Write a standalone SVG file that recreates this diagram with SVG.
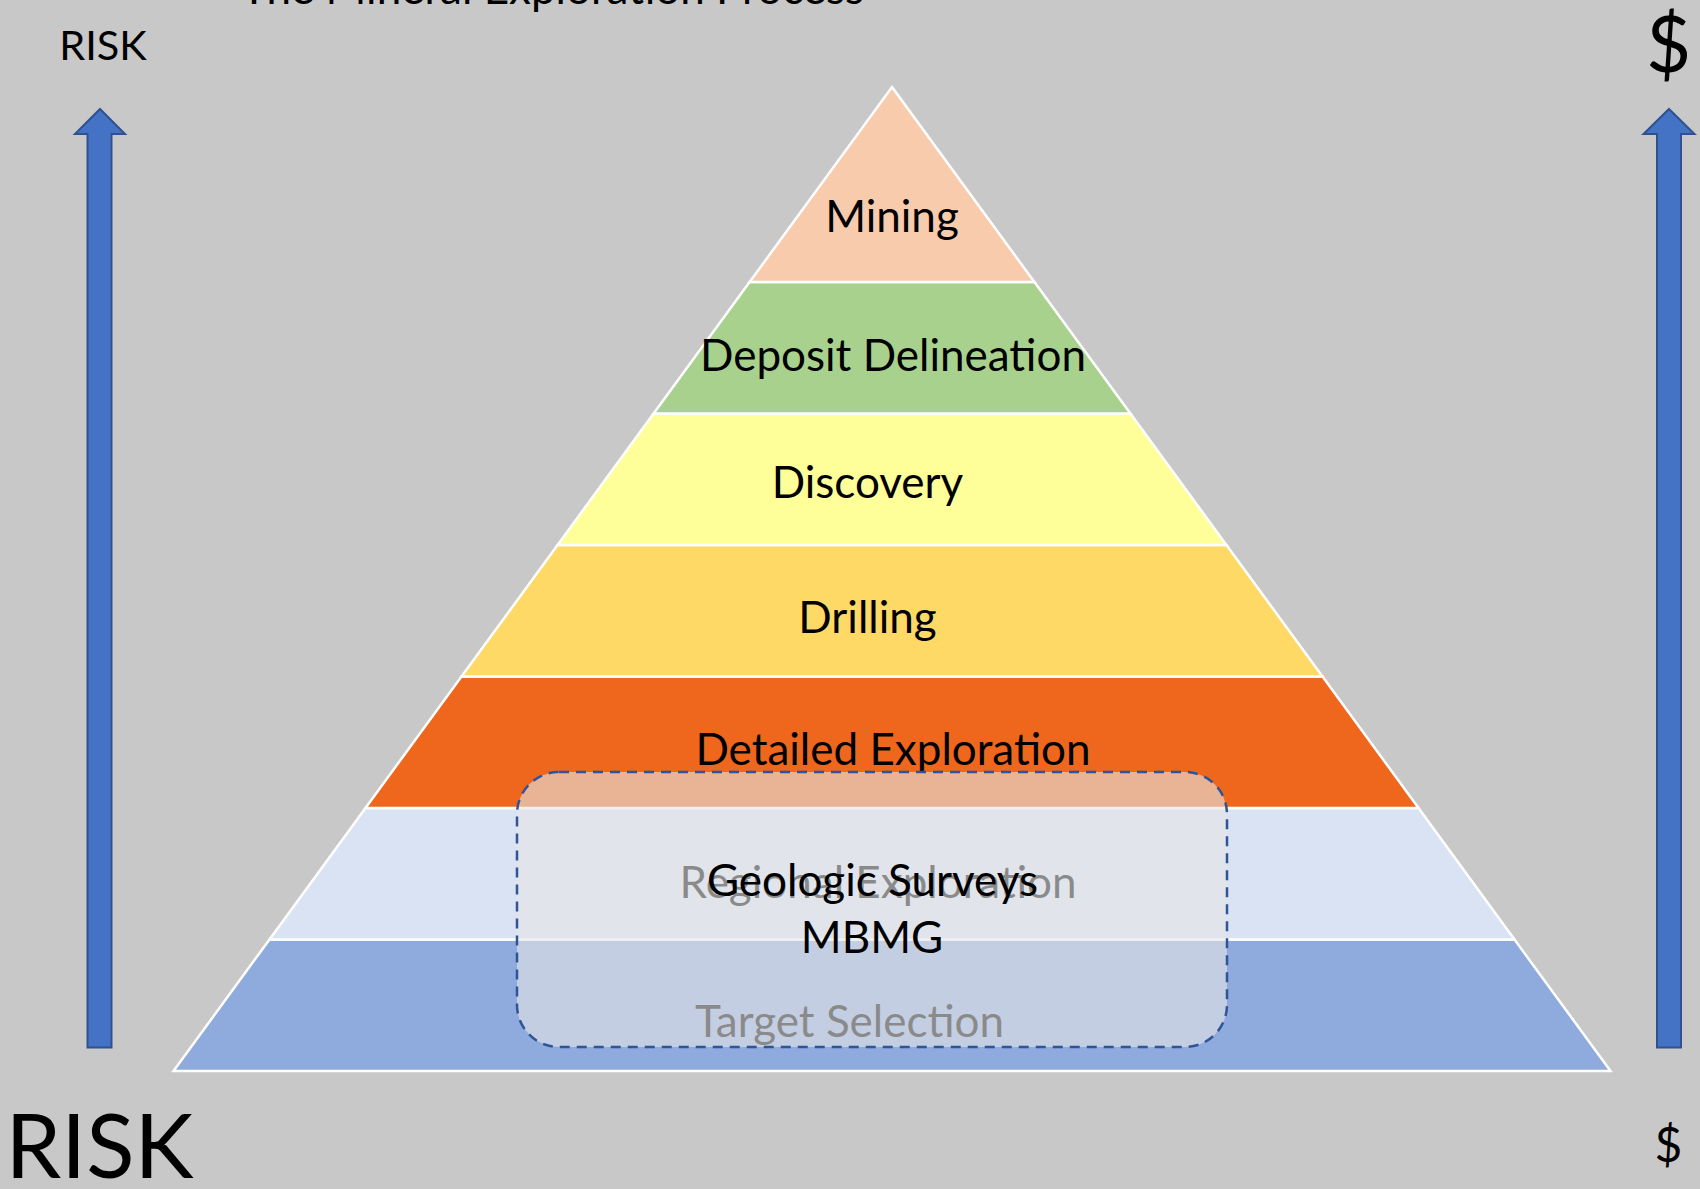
<svg xmlns="http://www.w3.org/2000/svg" width="1700" height="1189" viewBox="0 0 1700 1189">
  <style>
    .band { stroke: #FFFFFF; stroke-width: 2.5; stroke-linejoin: miter; }
    .lbl { font-family: Lato, "Noto Sans", "DejaVu Sans", sans-serif; font-size: 44px; fill: #000000; text-anchor: middle; }
    .arrow { fill: #4472C4; stroke: #2F528F; stroke-width: 2; }
    .overlay { fill: #E6E6E6; fill-opacity: 0.6; stroke: #2F5597; stroke-width: 2.5; stroke-dasharray: 10 7; }
  </style>
  <rect x="0" y="0" width="1700" height="1189" fill="#C8C8C8"/>

  <text id="title" class="lbl" x="552.5" y="3.5">The Mineral Exploration Process</text>

  <g id="band-target">
    <polygon class="band" points="269.5,939.5 1514.5,939.5 1610.5,1071 173.5,1071" fill="#8FAADC"/>
    <text class="lbl" x="849.5" y="1036.7">Target Selection</text>
  </g>
  <g id="band-regional">
    <polygon class="band" points="365.5,808 1418.5,808 1514.5,939.5 269.5,939.5" fill="#DAE3F3"/>
    <text class="lbl" x="878" y="898">Regional Exploration</text>
  </g>
  <g id="band-detailed">
    <polygon class="band" points="461.5,676.5 1322.5,676.5 1418.5,808 365.5,808" fill="#EE671D"/>
    <text class="lbl" x="893" y="765">Detailed Exploration</text>
  </g>
  <g id="band-drilling">
    <polygon class="band" points="557.6,545 1226.4,545 1322.5,676.5 461.5,676.5" fill="#FFD966"/>
    <text class="lbl" x="867.5" y="633.3">Drilling</text>
  </g>
  <g id="band-discovery">
    <polygon class="band" points="653.6,413.5 1130.4,413.5 1226.4,545 557.6,545" fill="#FFFF99"/>
    <text class="lbl" x="867.5" y="498.3">Discovery</text>
  </g>
  <g id="band-deposit">
    <polygon class="band" points="749.6,282 1034.4,282 1130.4,413.5 653.6,413.5" fill="#A9D18E"/>
    <text class="lbl" x="893" y="370.7">Deposit Delineation</text>
  </g>
  <g id="band-mining">
    <polygon class="band" points="892,87 1034.4,282 749.6,282" fill="#F8CBAD"/>
    <text class="lbl" x="892" y="231.5">Mining</text>
  </g>

  <g id="geologic-surveys">
    <rect class="overlay" x="517" y="772" width="710" height="275" rx="42" ry="42"/>
    <text class="lbl" x="872.5" y="896">Geologic Surveys</text>
    <text class="lbl" x="872" y="953">MBMG</text>
  </g>

  <g id="risk-arrow">
    <polygon class="arrow" points="100,109 125,134 111.5,134 111.5,1047.5 87.5,1047.5 87.5,134 75,134"/>
  </g>
  <g id="cost-arrow">
    <polygon class="arrow" points="1669,109 1694.5,134 1681,134 1681,1047.5 1657,1047.5 1657,134 1643.5,134"/>
  </g>

  <text id="risk-top" class="lbl" x="103" y="60" style="font-size:41.5px">RISK</text>
  <text id="risk-bottom" class="lbl" x="99.5" y="1178" style="font-size:89px">RISK</text>
  <text id="cost-top" class="lbl" x="1668.5" y="72" style="font-size:78px">$</text>
  <text id="cost-bottom" class="lbl" x="1668.5" y="1162" style="font-size:48px">$</text>
</svg>
